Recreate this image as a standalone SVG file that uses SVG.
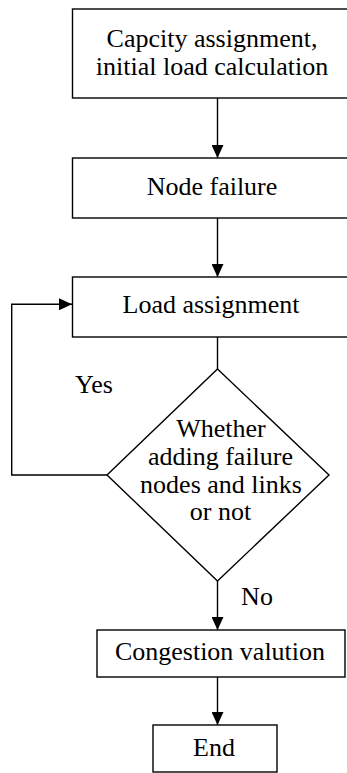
<svg xmlns="http://www.w3.org/2000/svg" width="347" height="773" viewBox="0 0 347 773">
<style>
.b{fill:#fff;stroke:#000;stroke-width:1.4}
.c{fill:none;stroke:#000;stroke-width:1.4}
text{font-family:"Liberation Serif","Times New Roman",serif;font-size:26px;fill:#000;text-anchor:middle}
</style>
<defs>
<marker id="ah" markerWidth="13" markerHeight="12" refX="13" refY="6" orient="auto" markerUnits="userSpaceOnUse">
<path d="M0,0 L13,6 L0,12 Z" fill="#000"/>
</marker>
</defs>
<rect width="347" height="773" fill="#fff"/>
<g id="connectors">
<line class="c" x1="217.5" y1="98" x2="217.5" y2="158" marker-end="url(#ah)"/>
<line class="c" x1="217.5" y1="218" x2="217.5" y2="277" marker-end="url(#ah)"/>
<line class="c" x1="217.5" y1="337" x2="217.5" y2="369"/>
<polyline class="c" points="107,475 11.7,475 11.7,304.3 72,304.3" marker-end="url(#ah)"/>
<line class="c" x1="217.5" y1="581" x2="217.5" y2="630" marker-end="url(#ah)"/>
<line class="c" x1="217.5" y1="677" x2="217.5" y2="725" marker-end="url(#ah)"/>
<text x="94" y="393">Yes</text>
<text x="257" y="605">No</text>
</g>
<g id="n1">
<rect class="b" x="72.5" y="9" width="290" height="89"/>
<text x="212" y="47">Capcity assignment,</text>
<text x="212" y="75">initial load calculation</text>
</g>
<g id="n2">
<rect class="b" x="72.5" y="158" width="290" height="60"/>
<text x="212" y="195">Node failure</text>
</g>
<g id="n3">
<rect class="b" x="72.5" y="277" width="290" height="60"/>
<text x="211" y="313">Load assignment</text>
</g>
<g id="n4">
<polygon class="b" points="217.5,369 329,475 217.5,581 107,475"/>
<text x="221" y="437">Whether</text>
<text x="220.5" y="465">adding failure</text>
<text x="221" y="493">nodes and links</text>
<text x="220.5" y="520">or not</text>
</g>
<g id="n5">
<rect class="b" x="97" y="630" width="248" height="47"/>
<text x="220" y="660">Congestion valution</text>
</g>
<g id="n6">
<rect class="b" x="153" y="725" width="124" height="47"/>
<text x="214" y="756">End</text>
</g>
</svg>
